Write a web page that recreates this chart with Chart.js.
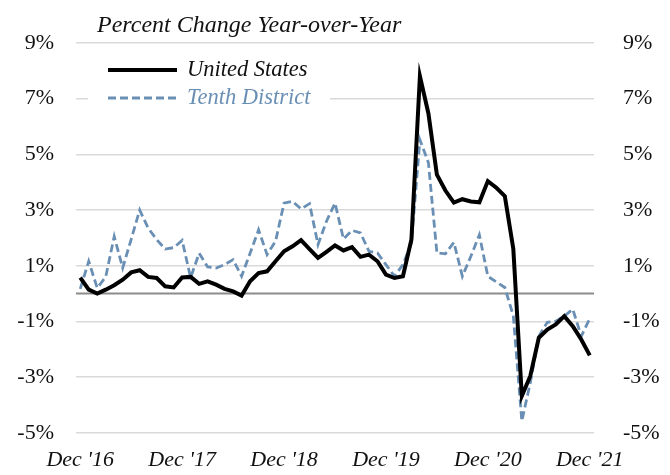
<!DOCTYPE html>
<html lang="en">
<head>
<meta charset="UTF-8">
<title>Percent Change Year-over-Year</title>
<script src="https://cdn.jsdelivr.net/npm/chart.js"></script>
<style>
  body { margin: 0; background: #fff; }
  #wrap { width: 670px; height: 475px; }
</style>
</head>
<body>
<div id="wrap"><canvas id="grafico" width="670" height="475"></canvas></div>
<script>
// monthly, Dec 2016 .. Dec 2021
const monthAbbr = ['Dec', 'Jan', 'Feb', 'Mar', 'Apr', 'May', 'Jun', 'Jul', 'Aug', 'Sep', 'Oct', 'Nov'];
const tickLabels = ["Dec '16", "Dec '17", "Dec '18", "Dec '19", "Dec '20", "Dec '21"];
const yTicks = [-5, -3, -1, 1, 3, 5, 7, 9];

const unitedStates = [
    0.57, 0.14, 0.00, 0.14, 0.30, 0.50, 0.76, 0.84, 0.60, 0.56, 0.26, 0.22,
    0.58, 0.60, 0.35, 0.44, 0.32, 0.17, 0.08, -0.07, 0.44, 0.74, 0.80, 1.16,
    1.52, 1.70, 1.92, 1.60, 1.28, 1.50, 1.73, 1.55, 1.67, 1.32, 1.40, 1.16,
    0.68, 0.56, 0.62, 1.94, 7.81, 6.47, 4.27, 3.70, 3.27, 3.39, 3.31, 3.28,
    4.04, 3.80, 3.50, 1.60, -3.68, -2.96, -1.59, -1.29, -1.11, -0.81, -1.17, -1.65,
    -2.22
];
const tenthDistrict = [
    0.17, 1.16, 0.20, 0.60, 2.05, 0.92, 1.95, 3.00, 2.35, 1.94, 1.60, 1.65,
    1.91, 0.57, 1.45, 0.96, 0.92, 1.04, 1.22, 0.62, 1.45, 2.29, 1.40, 1.88,
    3.25, 3.31, 3.04, 3.23, 1.76, 2.60, 3.25, 1.96, 2.27, 2.18, 1.52, 1.46,
    1.04, 0.62, 1.04, 1.82, 5.52, 4.70, 1.46, 1.43, 1.84, 0.62, 1.34, 2.11,
    0.62, 0.42, 0.22, -0.80, -4.58, -3.20, -1.53, -1.03, -0.99, -0.81, -0.56, -1.53,
    -0.90
];

const meses = unitedStates.map((v, i) => monthAbbr[i % 12] + " '" + (16 + Math.floor((i + 11) / 12)));

const serif = "'Liberation Serif', 'Times New Roman', serif";
const azul = '#6a8fb4';

const extras = {
    id: 'extras',
    beforeDatasetsDraw(chart) {
        const ctx = chart.ctx;
        const area = chart.chartArea;
        const y0 = chart.scales.y.getPixelForValue(0);
        ctx.save();
        // linha do zero
        ctx.strokeStyle = '#8c8c8c';
        ctx.lineWidth = 2;
        ctx.beginPath();
        ctx.moveTo(area.left, y0);
        ctx.lineTo(area.right, y0);
        ctx.stroke();
        // legenda
        ctx.fillStyle = '#fff';
        ctx.fillRect(88, 50, 242, 64);
        const linhas = [70, 98];
        chart.data.datasets.forEach((ds, i) => {
            const y = linhas[i];
            ctx.strokeStyle = ds.borderColor;
            ctx.lineWidth = ds.borderWidth;
            ctx.setLineDash(ds.borderDash || []);
            ctx.beginPath();
            ctx.moveTo(108, y);
            ctx.lineTo(177, y);
            ctx.stroke();
            ctx.setLineDash([]);
            ctx.fillStyle = ds.legendColor;
            ctx.font = 'italic 22.5px ' + serif;
            ctx.textBaseline = 'middle';
            ctx.fillText(ds.label, 187, y);
        });
        ctx.restore();
    },
    afterDraw(chart) {
        const ctx = chart.ctx;
        ctx.save();
        ctx.fillStyle = '#111';
        ctx.font = 'italic 24px ' + serif;
        ctx.textBaseline = 'alphabetic';
        ctx.fillText('Percent Change Year-over-Year', 97, 32);
        ctx.restore();
    }
};

new Chart(document.getElementById('grafico'), {
    type: 'line',
    data: {
        labels: meses,
        datasets: [{
            label: 'United States',
            data: unitedStates,
            borderColor: '#000',
            legendColor: '#111',
            borderWidth: 4,
            pointRadius: 0,
            tension: 0
        }, {
            label: 'Tenth District',
            data: tenthDistrict,
            borderColor: azul,
            legendColor: azul,
            borderWidth: 2.8,
            borderDash: [8, 4],
            pointRadius: 0,
            tension: 0
        }]
    },
    options: {
        responsive: false,
        animation: false,
        layout: { padding: { top: 43, bottom: 0, left: 0, right: 0 } },
        plugins: {
            legend: { display: false },
            tooltip: { enabled: false }
        },
        scales: {
            x: {
                offset: true,
                grid: { display: false, drawTicks: false },
                border: { display: false },
                afterFit(scale) { scale.height = 42; },
                ticks: {
                    autoSkip: false,
                    maxRotation: 0,
                    padding: 14,
                    color: '#111',
                    font: { family: serif, size: 22, style: 'italic' },
                    callback(value, index) {
                        const m = meses[index];
                        return tickLabels.includes(m) ? m : null;
                    }
                }
            },
            y: {
                position: 'left',
                min: -5,
                max: 9,
                afterBuildTicks(scale) { scale.ticks = yTicks.map(v => ({ value: v })); },
                afterFit(scale) { scale.width = 76; },
                grid: { color: '#dadada', lineWidth: 1.5, drawTicks: false },
                border: { display: false },
                ticks: {
                    padding: 22,
                    color: '#111',
                    font: { family: serif, size: 22 },
                    callback: v => v + '%'
                }
            },
            y2: {
                position: 'right',
                min: -5,
                max: 9,
                afterBuildTicks(scale) { scale.ticks = yTicks.map(v => ({ value: v })); },
                afterFit(scale) { scale.width = 76; },
                grid: { display: false, drawTicks: false },
                border: { display: false },
                ticks: {
                    padding: 29,
                    color: '#111',
                    font: { family: serif, size: 22 },
                    callback: v => v + '%'
                }
            }
        }
    },
    plugins: [extras]
});
</script>
</body>
</html>
